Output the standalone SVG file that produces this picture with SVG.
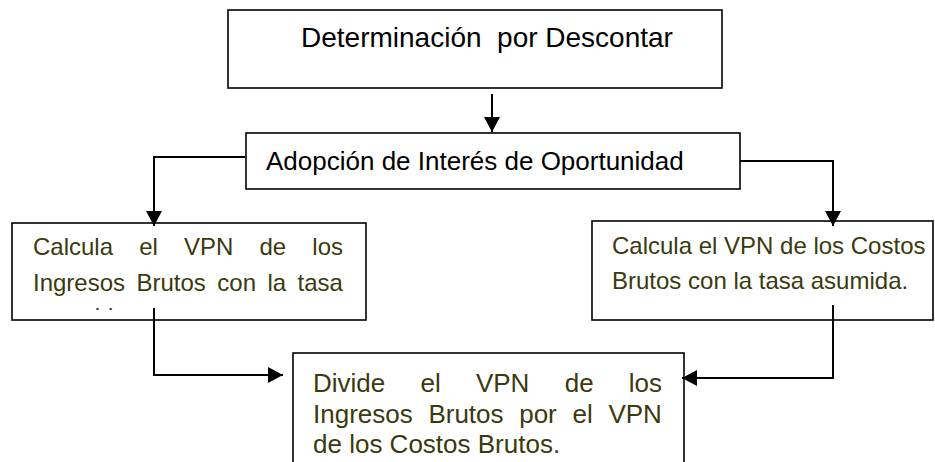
<svg xmlns="http://www.w3.org/2000/svg" width="935" height="462" viewBox="0 0 935 462">
<style>
  .box { fill: #ffffff; stroke: #000000; stroke-width: 1.6; }
  .t1 { font-family: "Liberation Sans", Arial, sans-serif; font-size: 26px; fill: #000000; }
  .t2 { font-family: "Liberation Sans", Arial, sans-serif; font-size: 24px; fill: #3a3a0e; }
  .t3 { font-family: "Liberation Sans", Arial, sans-serif; font-size: 26px; fill: #3a3a0e; }
  .conn { fill: none; stroke: #000000; stroke-width: 2; }
</style>
<defs>
  <marker id="arr" markerUnits="userSpaceOnUse" markerWidth="16" markerHeight="16" viewBox="0 0 16 16" refX="15" refY="8" orient="auto">
    <path d="M0,0 L15,8 L0,16 Z" fill="#000000"/>
  </marker>
  <clipPath id="clipL">
    <rect x="12" y="223" width="354" height="87"/>
  </clipPath>
</defs>
<rect x="0" y="0" width="935" height="462" fill="#ffffff"/>

<g id="node-determinacion">
  <rect class="box" x="228" y="10" width="494" height="78"/>
  <text class="t1" x="301" y="47" style="font-size:28px" xml:space="preserve">Determinación  por Descontar</text>
</g>

<g id="node-adopcion">
  <rect class="box" x="246" y="133" width="494" height="56"/>
  <text class="t1" x="266" y="170">Adopción de Interés de Oportunidad</text>
</g>

<g id="node-vpn-ingresos">
  <rect class="box" x="12" y="223" width="354" height="97"/>
  <text class="t2" y="255"><tspan x="33">Calcula</tspan><tspan x="139.2">el</tspan><tspan x="184">VPN</tspan><tspan x="259.5">de</tspan><tspan x="312.3">los</tspan></text>
  <text class="t2" y="291"><tspan x="33">Ingresos</tspan><tspan x="136.5">Brutos</tspan><tspan x="217.3">con</tspan><tspan x="267.5">la</tspan><tspan x="297.6">tasa</tspan></text>
  <text class="t2" x="36" y="325" clip-path="url(#clipL)">asumida.</text>
</g>

<g id="node-vpn-costos">
  <rect class="box" x="592" y="221" width="341" height="99"/>
  <text class="t2" x="612" y="254">Calcula el VPN de los Costos</text>
  <text class="t2" x="612" y="289">Brutos con la tasa asumida.</text>
</g>

<g id="node-divide">
  <rect class="box" x="293" y="353" width="391" height="120"/>
  <text class="t3" y="392"><tspan x="313">Divide</tspan><tspan x="420.5">el</tspan><tspan x="475.9">VPN</tspan><tspan x="564.7">de</tspan><tspan x="628.8">los</tspan></text>
  <text class="t3" y="422.5"><tspan x="313">Ingresos</tspan><tspan x="428.4">Brutos</tspan><tspan x="519.2">por</tspan><tspan x="572.5">el</tspan><tspan x="608.4">VPN</tspan></text>
  <text class="t3" x="313" y="453">de los Costos Brutos.</text>
</g>

<g id="connectors">
  <path class="conn" d="M492,94 L492,132" marker-end="url(#arr)"/>
  <path class="conn" d="M245,157 L154,157 L154,226" marker-end="url(#arr)"/>
  <path class="conn" d="M740,161 L833,161 L833,226" marker-end="url(#arr)"/>
  <path class="conn" d="M154,308 L154,375 L283,375" marker-end="url(#arr)"/>
  <path class="conn" d="M833,305 L833,378 L682,378" marker-end="url(#arr)"/>
</g>
</svg>
